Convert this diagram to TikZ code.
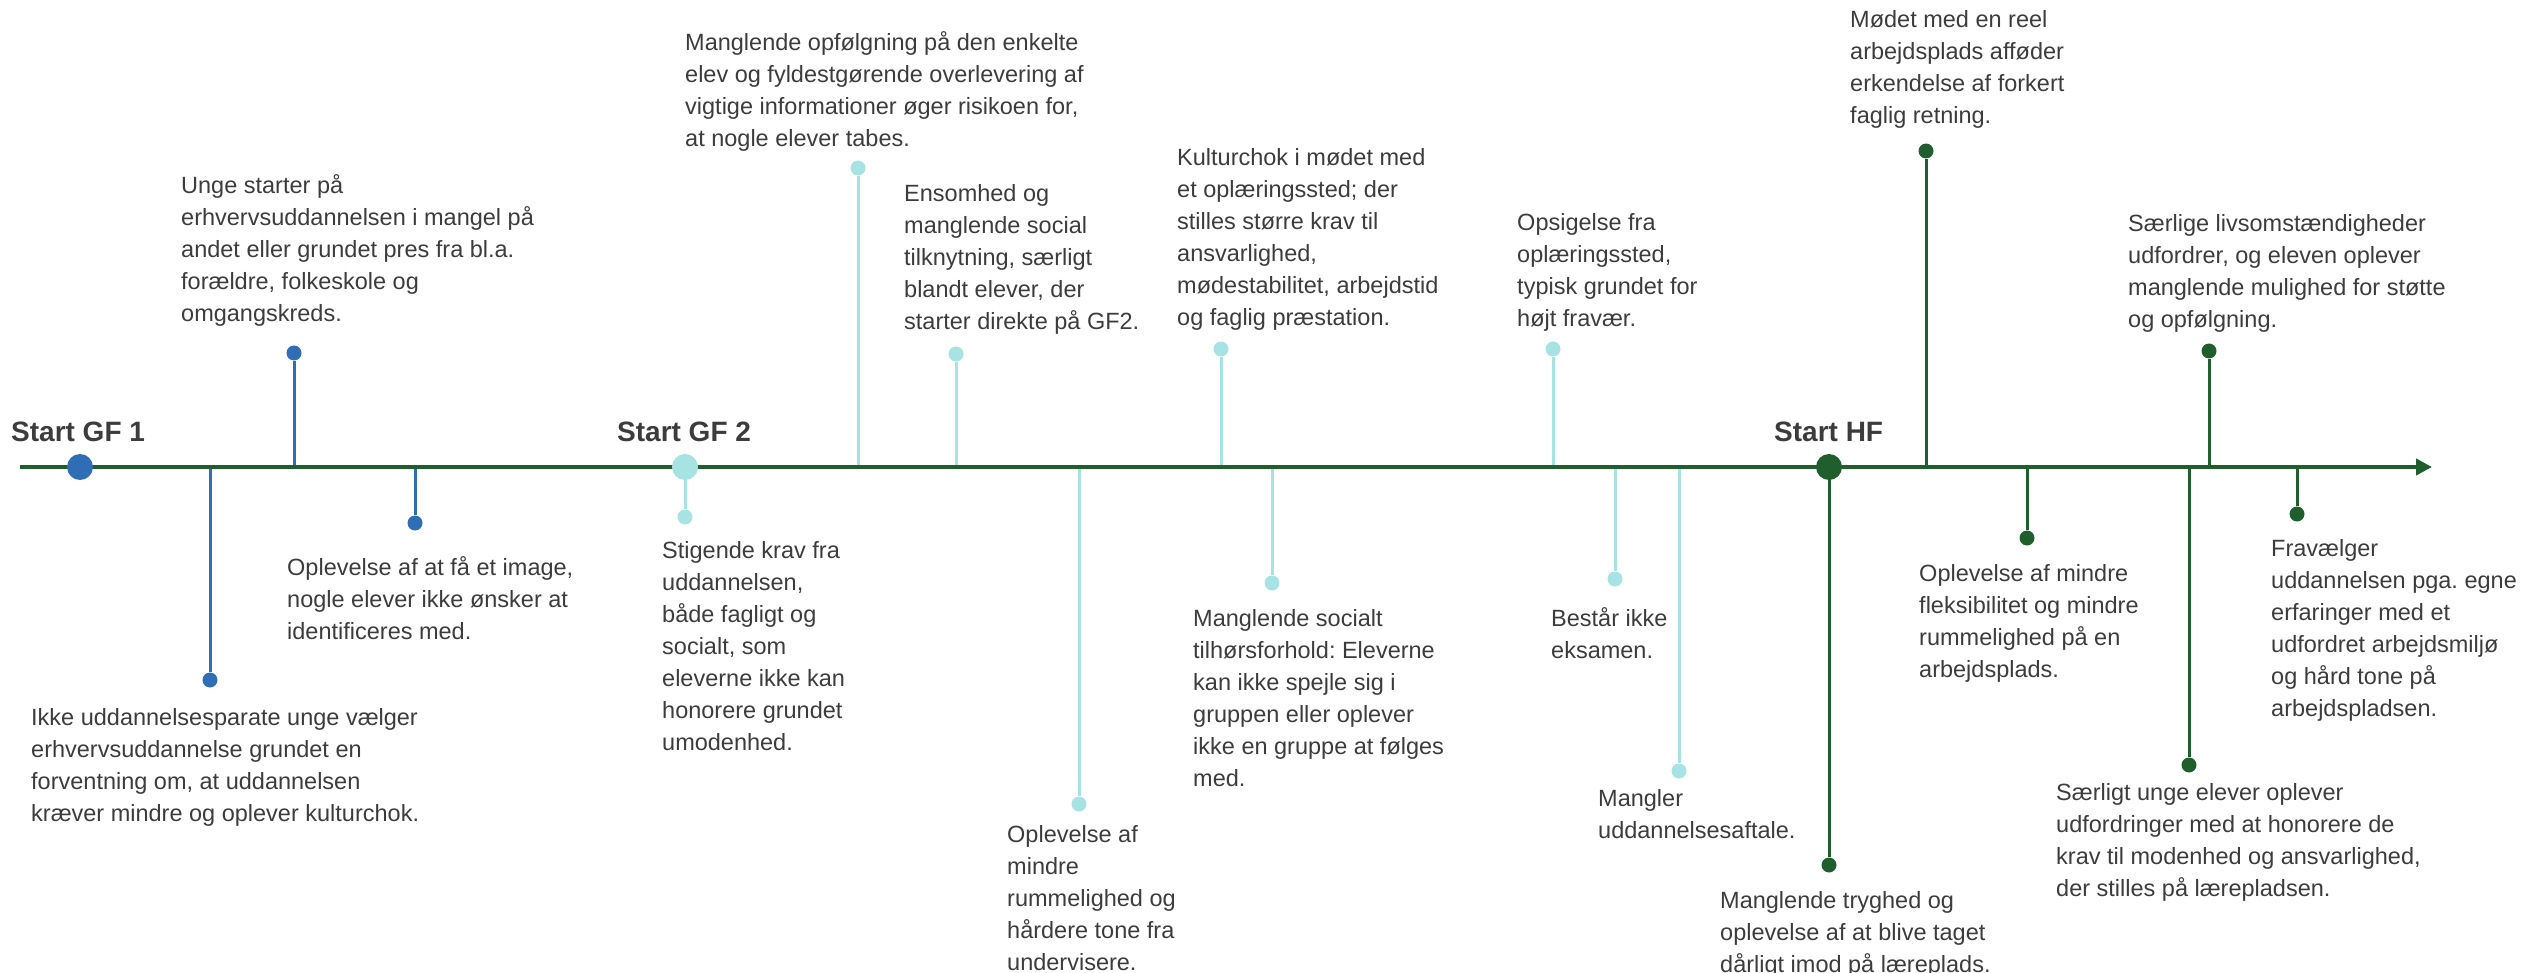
\documentclass[tikz,border=0pt]{standalone}
\usepackage{fontspec}
\setmainfont{Liberation Sans}
\usetikzlibrary{arrows.meta}
\definecolor{cblue}{RGB}{47,109,181}
\definecolor{ccyan}{RGB}{168,227,227}
\definecolor{cgreen}{RGB}{33,94,46}
\definecolor{ctext}{RGB}{60,60,60}
\frenchspacing
\tikzset{
  bigdot/.style={circle,inner sep=0pt,minimum size=26pt,draw=none},
  sdot/.style={circle,inner sep=0pt,minimum size=15pt,draw=none},
  stem/.style={line width=3pt},
  axisline/.style={line width=4pt,draw=cgreen},
  txt/.style={anchor=north west,inner sep=0pt,align=left,text=ctext,
    font=\fontsize{23.5}{32}\selectfont\frenchspacing},
  ttl/.style={anchor=base west,inner sep=0pt,text=ctext,
    font=\fontsize{28}{32}\selectfont\bfseries}
}
\begin{document}
\begin{tikzpicture}[x=1pt,y=-1pt]
\useasboundingbox (0,0) rectangle (2522,973);
% axis coordinates
\coordinate (axS) at (20,467);
\coordinate (axE) at (2432,467);
% ---------- stems (axis points and dots) ----------
% blue
\coordinate (a1) at (294,467); \node[sdot,fill=cblue] (d1) at (294,353) {};
\coordinate (a2) at (210,467); \node[sdot,fill=cblue] (d2) at (210,680) {};
\coordinate (a3) at (415,467); \node[sdot,fill=cblue] (d3) at (415,523) {};
\draw[stem,cblue] (a1) -- (d1);
\draw[stem,cblue] (a2) -- (d2);
\draw[stem,cblue] (a3) -- (d3);
% cyan
\coordinate (a4) at (685,467); \node[sdot,fill=ccyan] (d4) at (685,517) {};
\coordinate (a5) at (858,467); \node[sdot,fill=ccyan] (d5) at (858,168) {};
\coordinate (a6) at (956,467); \node[sdot,fill=ccyan] (d6) at (956,354) {};
\coordinate (a7) at (1079,467); \node[sdot,fill=ccyan] (d7) at (1079,804) {};
\coordinate (a8) at (1221,467); \node[sdot,fill=ccyan] (d8) at (1221,349) {};
\coordinate (a9) at (1272,467); \node[sdot,fill=ccyan] (d9) at (1272,583) {};
\coordinate (a10) at (1553,467); \node[sdot,fill=ccyan] (d10) at (1553,349) {};
\coordinate (a11) at (1615,467); \node[sdot,fill=ccyan] (d11) at (1615,579) {};
\coordinate (a12) at (1679,467); \node[sdot,fill=ccyan] (d12) at (1679,771) {};
\foreach \i in {4,...,12}{\draw[stem,ccyan] (a\i) -- (d\i);}
% green
\coordinate (a13) at (1829,467); \node[sdot,fill=cgreen] (d13) at (1829,865) {};
\coordinate (a14) at (1926,467); \node[sdot,fill=cgreen] (d14) at (1926,151) {};
\coordinate (a15) at (2027,467); \node[sdot,fill=cgreen] (d15) at (2027,538) {};
\coordinate (a16) at (2209,467); \node[sdot,fill=cgreen] (d16) at (2209,351) {};
\coordinate (a17) at (2189,467); \node[sdot,fill=cgreen] (d17) at (2189,765) {};
\coordinate (a18) at (2297,467); \node[sdot,fill=cgreen] (d18) at (2297,514) {};
\foreach \i in {13,...,18}{\draw[stem,cgreen] (a\i) -- (d\i);}
% ---------- axis ----------
\draw[axisline,-{Triangle[length=16pt,width=16pt]}] (axS) -- (axE);
% ---------- big milestone dots ----------
\node[bigdot,fill=cblue] (gf1) at (80,467) {};
\node[bigdot,fill=ccyan] (gf2) at (685,467) {};
\node[bigdot,fill=cgreen] (hf) at (1829,467) {};
% ---------- titles ----------
\node[ttl] (tgf1) at (11,442) {Start GF 1};
\node[ttl] (tgf2) at (617,442) {Start GF 2};
\node[ttl] (thf) at (1774,442) {Start HF};
% ---------- texts ----------
\node[txt] (t1) at (181,171) {\strut Unge starter på\\erhvervsuddannelsen i mangel på\\andet eller grundet pres fra bl.a.\\forældre, folkeskole og\\omgangskreds.};
\node[txt] (t2) at (31,703) {\strut Ikke uddannelsesparate unge vælger\\erhvervsuddannelse grundet en\\forventning om, at uddannelsen\\kræver mindre og oplever kulturchok.};
\node[txt] (t3) at (287,553) {\strut Oplevelse af at få et image,\\nogle elever ikke ønsker at\\identificeres med.};
\node[txt] (t4) at (662,536) {\strut Stigende krav fra\\uddannelsen,\\både fagligt og\\socialt, som\\eleverne ikke kan\\honorere grundet\\umodenhed.};
\node[txt] (t5) at (685,28) {\strut Manglende opfølgning på den enkelte\\elev og fyldestgørende overlevering af\\vigtige informationer øger risikoen for,\\at nogle elever tabes.};
\node[txt] (t6) at (904,179) {\strut Ensomhed og\\manglende social\\tilknytning, særligt\\blandt elever, der\\starter direkte på GF2.};
\node[txt] (t7) at (1007,820) {\strut Oplevelse af\\mindre\\rummelighed og\\hårdere tone fra\\undervisere.};
\node[txt] (t8) at (1177,143) {\strut Kulturchok i mødet med\\et oplæringssted; der\\stilles større krav til\\ansvarlighed,\\mødestabilitet, arbejdstid\\og faglig præstation.};
\node[txt] (t9) at (1193,604) {\strut Manglende socialt\\tilhørsforhold: Eleverne\\kan ikke spejle sig i\\gruppen eller oplever\\ikke en gruppe at følges\\med.};
\node[txt] (t10) at (1517,208) {\strut Opsigelse fra\\oplæringssted,\\typisk grundet for\\højt fravær.};
\node[txt] (t11) at (1551,604) {\strut Består ikke\\eksamen.};
\node[txt] (t12) at (1598,784) {\strut Mangler\\uddannelsesaftale.};
\node[txt] (t13) at (1720,886) {\strut Manglende tryghed og\\oplevelse af at blive taget\\dårligt imod på læreplads.};
\node[txt] (t14) at (1850,5) {\strut Mødet med en reel\\arbejdsplads afføder\\erkendelse af forkert\\faglig retning.};
\node[txt] (t15) at (1919,559) {\strut Oplevelse af mindre\\fleksibilitet og mindre\\rummelighed på en\\arbejdsplads.};
\node[txt] (t16) at (2128,209) {\strut Særlige livsomstændigheder\\udfordrer, og eleven oplever\\manglende mulighed for støtte\\og opfølgning.};
\node[txt] (t17) at (2056,778) {\strut Særligt unge elever oplever\\udfordringer med at honorere de\\krav til modenhed og ansvarlighed,\\der stilles på lærepladsen.};
\node[txt] (t18) at (2271,534) {\strut Fravælger\\uddannelsen pga. egne\\erfaringer med et\\udfordret arbejdsmiljø\\og hård tone på\\arbejdspladsen.};
\end{tikzpicture}
\end{document}
